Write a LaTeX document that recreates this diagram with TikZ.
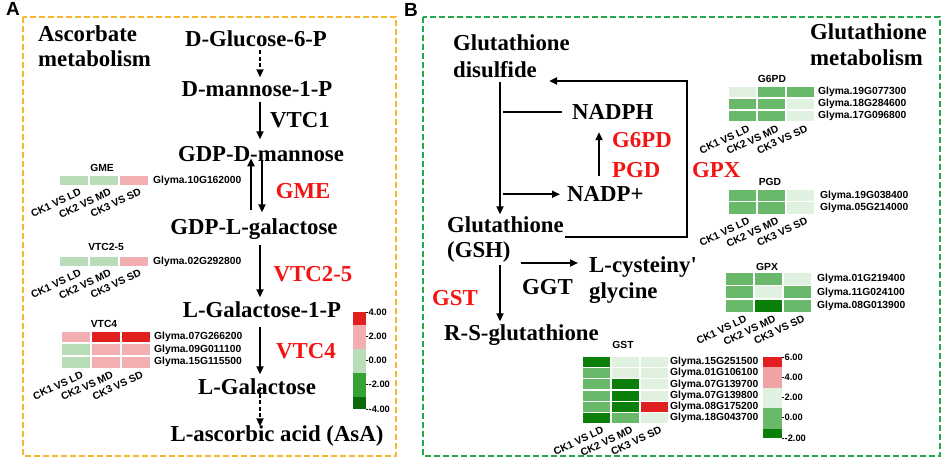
\documentclass[tikz,border=0pt]{standalone}
\usepackage{fontspec}
\setmainfont{Liberation Serif}
\setsansfont{Liberation Sans}
\usetikzlibrary{arrows.meta}
\definecolor{hR}{HTML}{E0201F}
\definecolor{hP}{HTML}{F2AFB2}
\definecolor{hLG}{HTML}{B8DDB8}
\definecolor{hVL}{HTML}{E0F1E0}
\definecolor{hG}{HTML}{6AB86A}
\definecolor{hDG}{HTML}{0A800A}
\definecolor{lMG}{HTML}{36A236}
\definecolor{lDG}{HTML}{0A690A}
\definecolor{rP}{HTML}{F0A3A7}
\definecolor{boxO}{HTML}{F5B830}
\definecolor{boxG}{HTML}{25A84A}
\definecolor{enzR}{HTML}{F41414}
\newcommand{\hmrow}[7]{%
  \fill[#5] (#1,#2) rectangle ++(#3,#4);
  \fill[#6] ({#1+#3+2},#2) rectangle ++(#3,#4);
  \fill[#7] ({#1+2*#3+4},#2) rectangle ++(#3,#4);}
\newcommand{\cklabels}[3]{%
  \node[collab] at ({#1+#2/2+5},{#3+3}) {CK1 VS LD};
  \node[collab] at ({#1+1.5*#2+2+5},{#3+3}) {CK2 VS MD};
  \node[collab] at ({#1+2.5*#2+4+5},{#3+3}) {CK3 VS SD};}
\begin{document}
\begin{tikzpicture}[x=1pt,y=-1pt,
  met/.style={font=\fontsize{22.8}{26}\selectfont\bfseries, inner sep=0pt, text height=15.5pt, text depth=4.6pt},
  enz/.style={met, text=enzR},
  sm/.style={font=\fontsize{10.3}{12}\selectfont\sffamily\bfseries, inner sep=0pt},
  gene/.style={sm, anchor=west},
  collab/.style={sm, rotate=25, anchor=north east},
  legl/.style={font=\fontsize{9.3}{10}\selectfont\sffamily\bfseries, inner sep=0pt, anchor=west},
  ln/.style={line width=2.1pt},
  arr/.style={ln, -{Triangle[length=8pt,width=7pt]}},
  darr/.style={arr, dash pattern=on 4pt off 2.5pt},
  panel/.style={line width=2pt, dash pattern=on 6pt off 3pt},
  plab/.style={font=\fontsize{19}{20}\selectfont\sffamily\bfseries, inner sep=0pt},
]
\useasboundingbox (0,0) rectangle (948,462);
\fill[white] (0,0) rectangle (948,462);

% panels
\draw[panel, boxO] (23,17) rectangle (396,456);
\draw[panel, boxG] (423,17) rectangle (940,456);
\node[plab] (labA) at (13,9) {A};
\node[plab] (labB) at (411,10) {B};

% ---------- Panel A ----------
\node[met, anchor=base west] (asc1) at (38,42) {Ascorbate};
\node[met, anchor=base west] (asc2) at (38,67) {metabolism};
\node[met, anchor=base] (g6p) at (256,47) {D-Glucose-6-P};
\node[met, anchor=base] (m1p) at (257,97) {D-mannose-1-P};
\node[met, anchor=base] (gdpm) at (261,162) {GDP-D-mannose};
\node[met, anchor=base] (gdpl) at (254,235) {GDP-L-galactose};
\node[met, anchor=base] (lg1p) at (262,318) {L-Galactose-1-P};
\node[met, anchor=base] (lgal) at (257,394) {L-Galactose};
\node[met, anchor=base] (asa) at (277,441) {L-ascorbic acid (AsA)};
\node[met, anchor=base] (vtc1) at (300,128) {VTC1};
\node[enz, anchor=base] (gme) at (303,199) {GME};
\node[enz, anchor=base] (vtc25) at (313,282) {VTC2-5};
\node[enz, anchor=base] (vtc4) at (306,359) {VTC4};

\coordinate (axL) at (260,0);
\coordinate (axU) at (251,0);
\coordinate (axD) at (262,0);
\draw[darr, shorten <=-1.5pt, shorten >=4pt] (g6p.south -| axL) -- (m1p.north -| axL);
\draw[arr, shorten <=0.5pt, shorten >=7pt] (m1p.south -| axL) -- (gdpm.north -| axL);
\draw[arr, shorten <=9pt, shorten >=-8.5pt] (gdpl.north -| axU) -- (gdpm.south -| axU);
\draw[arr, shorten <=-6.5pt, shorten >=7pt] (gdpm.south -| axD) -- (gdpl.north -| axD);
\draw[arr, shorten <=5.5pt, shorten >=5pt] (gdpl.south -| axL) -- (lg1p.north -| axL);
\draw[arr, shorten <=4.5pt, shorten >=4pt] (lg1p.south -| axL) -- (lgal.north -| axL);
\draw[darr, shorten <=-11.5pt, shorten >=-1pt] (lgal.south -| axL) -- (asa.north -| axL);

% heatmap GME
\node[sm] (tGME) at (102,168) {GME};
\hmrow{60}{176}{28}{9}{hLG}{hLG}{hP}
\node[gene] (gA1) at (153,180.5) {Glyma.10G162000};
\cklabels{60}{28}{185}
% heatmap VTC2-5
\node[sm] (tVTC25) at (106,247) {VTC2-5};
\hmrow{60}{257}{28}{9}{hLG}{hLG}{hP}
\node[gene] (gA2) at (153,261.5) {Glyma.02G292800};
\cklabels{60}{28}{266}
% heatmap VTC4
\node[sm] (tVTC4) at (104,324) {VTC4};
\hmrow{62}{332}{28}{10.5}{hP}{hR}{hR}
\hmrow{62}{344.5}{28}{10.5}{hLG}{hP}{hP}
\hmrow{62}{357}{28}{10.5}{hLG}{hP}{hP}
\node[gene] (gA3) at (154,337.25) {Glyma.07G266200};
\node[gene] (gA4) at (154,349.75) {Glyma.09G011100};
\node[gene] (gA5) at (154,362.25) {Glyma.15G115500};
\cklabels{62}{28}{367.5}
% legend A
\fill[hR] (353,312) rectangle (366,325);
\fill[hP] (353,325) rectangle (366,349);
\fill[hLG] (353,349) rectangle (366,373);
\fill[lMG] (353,373) rectangle (366,397);
\fill[lDG] (353,397) rectangle (366,409);
\foreach \yy/\lab in {312/4.00, 336.25/2.00, 360.5/0.00, 384.75/-2.00, 409/-4.00} {
  \draw[line width=.6pt] (366,\yy) -- (368,\yy);
  \node[legl] at (368.5,\yy) {\lab};
}

% ---------- Panel B ----------
\node[met, anchor=base west] (gsd1) at (453,51) {Glutathione};
\node[met, anchor=base west] (gsd2) at (453,78) {disulfide};
\node[met, anchor=base west] (gm1) at (810,40) {Glutathione};
\node[met, anchor=base west] (gm2) at (810,66) {metabolism};
\node[met, anchor=base west, text depth=0pt] (nadph) at (572,120) {NADPH};
\node[enz, anchor=base west] (g6pd) at (612,148) {G6PD};
\node[enz, anchor=base west] (pgd) at (612,178) {PGD};
\node[met, anchor=base west, text depth=0pt] (nadp) at (567,202) {NADP+};
\node[enz, anchor=base west] (gpx) at (692,178) {GPX};
\node[met, anchor=base west] (gsh1) at (447,233) {Glutathione};
\node[met, anchor=base west] (gsh2) at (447,258) {(GSH)};
\node[met, anchor=base west] (lcys) at (589,273) {L-cysteiny\textquotesingle};
\node[met, anchor=base west] (gly) at (589,299) {glycine};
\node[met, anchor=base west] (ggt) at (522,295) {GGT};
\node[enz, anchor=base west] (gst) at (432,306) {GST};
\node[met, anchor=base west] (rsg) at (444,341) {R-S-glutathione};

\coordinate (axR) at (500,0);
\coordinate (axN) at (599,0);
\coordinate (gpxc) at (687,0);
\draw[arr, shorten <=-0.5pt, shorten >=3pt] (gsd2.south -| axR) -- (gsh1.north -| axR);
\draw[ln, shorten <=3pt, shorten >=10pt] (nadph.west -| axR) -- (nadph.west);
\draw[arr, shorten <=3pt, shorten >=7pt] (nadp.west -| axR) -- (nadp.west);
\draw[arr, shorten <=10pt, shorten >=12pt] (nadp.north -| axN) -- (nadph.south -| axN);
\coordinate (gstart) at ([shift={(1,4)}]gsh1.base east);
\coordinate (gtip) at ([shift={(12,3)}]gsd2.base east);
\draw[arr, line join=miter] (gstart) -- (gstart -| gpxc) -- (gpxc |- gtip) -- (gtip);
\draw[arr] ([shift={(10,5)}]gsh2.base east) -- ([shift={(-11,-10)}]lcys.base west);
\draw[arr, shorten <=2.5pt, shorten >=4pt] (gsh2.south -| axR) -- (rsg.north -| axR);

% heatmap G6PD
\node[sm] (tG6PD) at (772,79) {G6PD};
\hmrow{729}{87}{27}{10.5}{hVL}{hG}{hG}
\hmrow{729}{99}{27}{10.5}{hG}{hG}{hVL}
\hmrow{729}{111}{27}{10.5}{hG}{hG}{hVL}
\node[gene] (gB1) at (818,92.25) {Glyma.19G077300};
\node[gene] (gB2) at (818,104.25) {Glyma.18G284600};
\node[gene] (gB3) at (818,116.25) {Glyma.17G096800};
\cklabels{729}{27}{121.5}
% heatmap PGD
\node[sm] (tPGD) at (770,182) {PGD};
\hmrow{729}{190}{27}{11.5}{hG}{hG}{hVL}
\hmrow{729}{202.5}{27}{11.5}{hG}{hG}{hVL}
\node[gene] (gB4) at (820,195.75) {Glyma.19G038400};
\node[gene] (gB5) at (820,208.25) {Glyma.05G214000};
\cklabels{729}{27}{214}
% heatmap GPX
\node[sm] (tGPX) at (767,267) {GPX};
\hmrow{726}{273}{27}{12}{hG}{hG}{hVL}
\hmrow{726}{286.5}{27}{12}{hG}{hVL}{hG}
\hmrow{726}{300}{27}{12}{hG}{hDG}{hG}
\node[gene] (gB6) at (817,279) {Glyma.01G219400};
\node[gene] (gB7) at (817,292.5) {Glyma.11G024100};
\node[gene] (gB8) at (817,306) {Glyma.08G013900};
\cklabels{726}{27}{312}
% heatmap GST
\node[sm] (tGST) at (623,345) {GST};
\hmrow{583}{357}{27}{10}{hDG}{hVL}{hVL}
\hmrow{583}{368.2}{27}{10}{hG}{hVL}{hVL}
\hmrow{583}{379.4}{27}{10}{hG}{hDG}{hVL}
\hmrow{583}{390.6}{27}{10}{hG}{hDG}{hVL}
\hmrow{583}{401.8}{27}{10}{hG}{hDG}{hR}
\hmrow{583}{413}{27}{10}{hDG}{hG}{hVL}
\node[gene] (gC1) at (670,362) {Glyma.15G251500};
\node[gene] (gC2) at (670,373.2) {Glyma.01G106100};
\node[gene] (gC3) at (670,384.4) {Glyma.07G139700};
\node[gene] (gC4) at (670,395.6) {Glyma.07G139800};
\node[gene] (gC5) at (670,406.8) {Glyma.08G175200};
\node[gene] (gC6) at (670,418) {Glyma.18G043700};
\cklabels{583}{27}{423}
% legend B
\fill[hR] (763,357) rectangle (782,367);
\fill[rP] (763,367) rectangle (782,388);
\fill[hVL] (763,388) rectangle (782,408);
\fill[hG] (763,408) rectangle (782,429);
\fill[hDG] (763,429) rectangle (782,438);
\foreach \yy/\lab in {357/6.00, 377.25/4.00, 397.5/2.00, 417.75/0.00, 438/-2.00} {
  \draw[line width=.6pt] (782,\yy) -- (784,\yy);
  \node[legl] at (784.5,\yy) {\lab};
}
\end{tikzpicture}
\end{document}
